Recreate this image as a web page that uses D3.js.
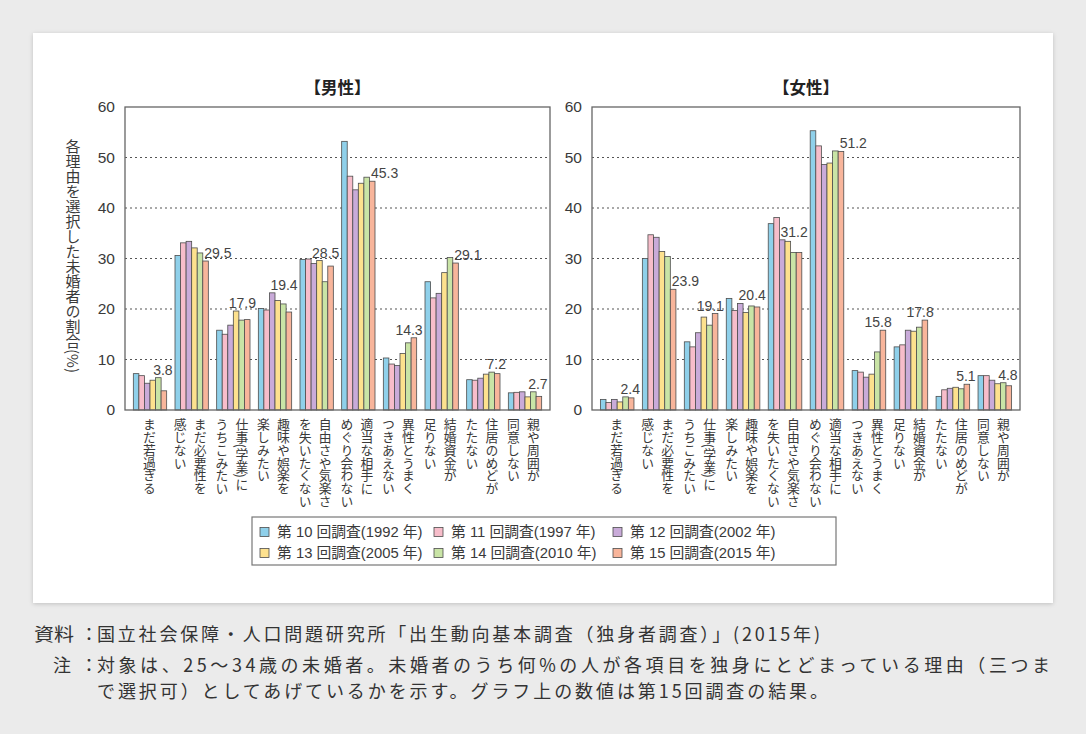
<!DOCTYPE html>
<html><head><meta charset="utf-8">
<script src="https://cdn.jsdelivr.net/npm/d3@7"></script>
<style>
body{margin:0;background:#ebebeb;}
svg{display:block;}
</style></head><body>
<svg id="c" width="1086" height="734"></svg>
<script>
// ---------- data ----------
const categories = [
  ["まだ若過ぎる"],
  ["まだ必要性を","感じない"],
  ["仕事(学業)に","うちこみたい"],
  ["趣味や娯楽を","楽しみたい"],
  ["自由さや気楽さ","を失いたくない"],
  ["適当な相手に","めぐり会わない"],
  ["異性とうまく","つきあえない"],
  ["結婚資金が","足りない"],
  ["住居のめどが","たたない"],
  ["親や周囲が","同意しない"]
];
const surveys = ["第 10 回調査(1992 年)","第 11 回調査(1997 年)","第 12 回調査(2002 年)",
                 "第 13 回調査(2005 年)","第 14 回調査(2010 年)","第 15 回調査(2015 年)"];
const panelTitles = ["【男性】","【女性】"];
const yTicks = [0,10,20,30,40,50,60];

// 男性
const male1992 = [7.2,30.6,15.8,20.1,29.8,53.2,10.3,25.4,6.0,3.4];
const male1997 = [6.8,33.1,15.0,19.8,29.9,46.3,9.1,22.2,5.9,3.5];
const male2002 = [5.3,33.4,16.8,23.2,29.0,43.6,8.8,23.1,6.3,3.6];
const male2005 = [5.9,32.1,19.6,21.7,29.6,44.9,11.2,27.2,7.1,2.6];
const male2010 = [6.4,31.1,17.8,21.0,25.4,46.1,13.3,30.2,7.5,3.6];
const male2015 = [3.8,29.5,17.9,19.4,28.5,45.3,14.3,29.1,7.2,2.7];
// 女性
const female1992 = [2.1,30.0,13.5,22.1,36.9,55.3,7.8,12.5,2.7,6.8];
const female1997 = [1.5,34.7,12.5,19.7,38.1,52.3,7.5,12.9,4.0,6.8];
const female2002 = [2.1,34.2,15.3,21.1,33.7,48.6,6.5,15.8,4.3,5.9];
const female2005 = [1.6,31.4,18.4,19.3,33.4,48.9,7.1,15.6,4.5,5.2];
const female2010 = [2.6,30.4,16.8,20.6,31.2,51.3,11.5,16.4,4.2,5.4];
const female2015 = [2.4,23.9,19.1,20.4,31.2,51.2,15.8,17.8,5.1,4.8];

const maleSeries = [male1992,male1997,male2002,male2005,male2010,male2015];
const femaleSeries = [female1992,female1997,female2002,female2005,female2010,female2015];

// ---------- style ----------
const colors = ["#8fd0ea","#f7bdca","#c9abd9","#fde18e","#c9e4a6","#f8b59b"];
const latin = "'Liberation Sans', Arial, 'Noto Sans CJK JP', sans-serif";
const jp = "'Noto Sans CJK JP', 'Noto Sans CJK SC', sans-serif";
const textCol = "#3a3a3a";

const svg = d3.select("#c");
const defs = svg.append("defs");
const flt = defs.append("filter").attr("id","sh").attr("x","-3%").attr("y","-3%").attr("width","106%").attr("height","106%");
flt.append("feDropShadow").attr("dx",0).attr("dy",1).attr("stdDeviation",2.2)
   .attr("flood-color","#000").attr("flood-opacity",0.18);

// card
svg.append("rect").attr("x",33).attr("y",33).attr("width",1020).attr("height",570)
   .attr("fill","#fff").attr("filter","url(#sh)");

const yTop = 107, yBot = 410;
const y = d3.scaleLinear().domain([0,60]).range([yBot,yTop]);

function drawPanel(series, title, left, right) {
  const g = svg.append("g");
  const x0 = d3.scaleBand().domain(d3.range(categories.length)).range([left,right])
               .paddingInner(0.2).paddingOuter(0.2);
  const x1 = d3.scaleBand().domain(d3.range(series.length)).range([0,x0.bandwidth()]);

  // grid
  g.selectAll("line.grid").data(yTicks.filter(t=>t>0 && t<60)).join("line")
    .attr("x1",left).attr("x2",right).attr("y1",d=>y(d)).attr("y2",d=>y(d))
    .attr("stroke","#555").attr("stroke-width",1.2).attr("stroke-dasharray","2,3");

  // y axis labels
  const axis = d3.axisLeft(y).tickValues(yTicks).tickSize(0).tickPadding(10);
  const ax = g.append("g").attr("transform",`translate(${left},0)`).call(axis);
  ax.select(".domain").remove();
  ax.selectAll("text").attr("font-family",latin).attr("font-size",15.5).attr("fill",textCol);

  // bars
  categories.forEach((c,i)=>{
    const gg = g.append("g").attr("transform",`translate(${x0(i)},0)`);
    series.forEach((s,k)=>{
      gg.append("rect").attr("x",x1(k)).attr("width",x1.bandwidth())
        .attr("y",y(s[i])).attr("height",y(0)-y(s[i]))
        .attr("fill",colors[k]).attr("stroke","#4d4d4d").attr("stroke-width",0.8);
    });
  });

  // frame
  g.append("rect").attr("x",left).attr("y",yTop).attr("width",right-left).attr("height",yBot-yTop)
    .attr("fill","none").attr("stroke","#666").attr("stroke-width",1.3);

  // value labels (last survey)
  const last = series[series.length-1];
  categories.forEach((c,i)=>{
    const vals = series.map(s=>s[i]);
    const o = last[i];
    const gmax = d3.max(vals);
    const nextMax = i < categories.length-1 ? d3.max(series.map(s=>s[i+1])) : null;
    const gx = x0(i), bw = x1.bandwidth(), ox = gx + x1(series.length-1);
    const t = g.append("text").text(o.toFixed(1))
      .attr("font-family",latin).attr("font-size",14).attr("fill","#444");
    const w = t.node().getComputedTextLength();
    if (o < gmax - 0.5 && nextMax !== null && nextMax < o) {
      t.attr("x",ox+1.5).attr("y",y(o)-3).attr("text-anchor","start");
    } else {
      const r = ox + bw + 6, l = r - w;
      let m = 0;
      vals.forEach((v,k)=>{ if (gx + x1(k) + bw > l) m = Math.max(m,v); });
      t.attr("x",r).attr("y",y(m)-3).attr("text-anchor","end");
    }
  });

  // category labels (vertical)
  categories.forEach((lines,i)=>{
    const cx = x0(i) + x0.bandwidth()/2 - 1.5;
    lines.forEach((ln,j)=>{
      const xx = lines.length === 1 ? cx + 1 : cx + 10 - j*20;
      g.append("text").text(ln)
        .attr("x",xx).attr("y",418)
        .style("writing-mode","vertical-rl")
        .attr("font-family",jp).attr("font-size",12.8).attr("fill",textCol);
    });
  });

  // title
  g.append("text").text(title).attr("x",(left+right)/2).attr("y",94)
    .attr("text-anchor","middle").attr("font-family",jp).attr("font-weight","bold")
    .attr("font-size",16.5).attr("fill","#222");
}

drawPanel(maleSeries, panelTitles[0], 125, 550);
drawPanel(femaleSeries, panelTitles[1], 592, 1020);

// y-axis title
svg.append("text").text("各理由を選択した未婚者の割合(%)")
  .attr("x",73).attr("y",256).attr("text-anchor","middle")
  .style("writing-mode","vertical-rl")
  .attr("font-family",jp).attr("font-size",15).attr("fill",textCol);

// legend
const lg = svg.append("g");
lg.append("rect").attr("x",252).attr("y",517).attr("width",584).attr("height",48)
  .attr("fill","#fff").attr("stroke","#777").attr("stroke-width",1.2);
const colX = [260,434,613], rowY = [532,553];
surveys.forEach((s,k)=>{
  const cx = colX[k%3], cy = rowY[Math.floor(k/3)];
  lg.append("rect").attr("x",cx).attr("y",cy-4.5).attr("width",9).attr("height",9)
    .attr("fill",colors[k]).attr("stroke","#4d4d4d").attr("stroke-width",0.8);
  lg.append("text").text(s).attr("x",cx+17).attr("y",cy).attr("dy","0.36em")
    .attr("font-family",latin).attr("font-size",14.8).attr("fill",textCol);
});

// footnotes
const fn = svg.append("g").attr("font-family",jp).attr("font-size",18).attr("fill","#333");
fn.append("text").text("資料").attr("x",34).attr("y",641).attr("textLength",40).attr("lengthAdjust","spacingAndGlyphs");
fn.append("text").text("：").attr("x",80).attr("y",641);
fn.append("text").text("国立社会保障・人口問題研究所「出生動向基本調査（独身者調査）」(2015年)")
  .attr("x",97).attr("y",641).attr("textLength",723).attr("lengthAdjust","spacing");
fn.append("text").text("注").attr("x",53).attr("y",672);
fn.append("text").text("：").attr("x",80).attr("y",672);
fn.append("text").text("対象は、25～34歳の未婚者。未婚者のうち何%の人が各項目を独身にとどまっている理由（三つま")
  .attr("x",97).attr("y",672).attr("textLength",953).attr("lengthAdjust","spacing");
fn.append("text").text("で選択可）としてあげているかを示す。グラフ上の数値は第15回調査の結果。")
  .attr("x",97).attr("y",698).attr("textLength",731).attr("lengthAdjust","spacing");
</script>
</body></html>
